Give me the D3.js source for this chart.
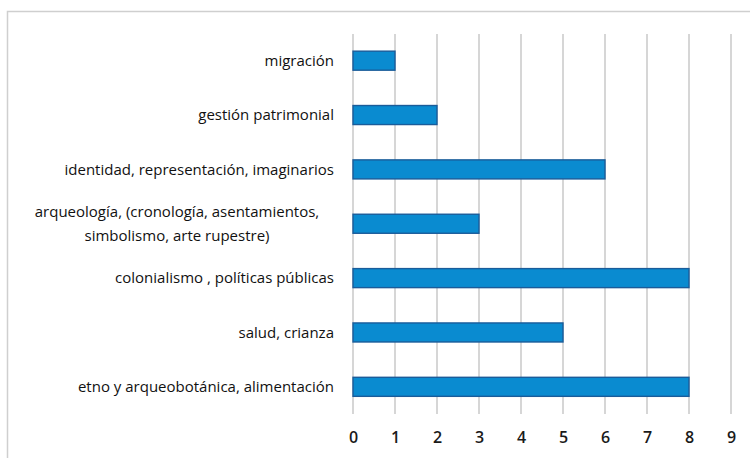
<!DOCTYPE html>
<html>
<head>
<meta charset="utf-8">
<script src="https://cdn.jsdelivr.net/npm/d3@7"></script>
<style>
  html, body { margin: 0; padding: 0; background: #fff; }
  svg { display: block; }
</style>
</head>
<body>
<svg id="chart" width="750" height="458"></svg>
<script>
const categories = [
  ["migración"],
  ["gestión patrimonial"],
  ["identidad, representación, imaginarios"],
  ["arqueología, (cronología, asentamientos,", "simbolismo, arte rupestre)"],
  ["colonialismo , políticas públicas"],
  ["salud, crianza"],
  ["etno y arqueobotánica, alimentación"]
];
const values = [1, 2, 6, 3, 8, 5, 8];
const tickValues = [0, 1, 2, 3, 4, 5, 6, 7, 8, 9];

const svg = d3.select("#chart");
const W = 750, H = 458;
const font = "'Open Sans', 'Liberation Sans', sans-serif";

// outer border
svg.append("rect").attr("x", 7.5).attr("y", 11.5).attr("width", W + 10).attr("height", H + 10)
  .attr("fill", "#fff").attr("stroke", "#cfcfcf").attr("stroke-width", 1.5);

const x = d3.scaleLinear().domain([0, 9]).range([353, 731]);
const ids = categories.map((c, i) => i);
const y = d3.scaleBand().domain(ids).range([33.5, 414]).paddingInner(0.65).paddingOuter(0.325);

// gridlines
svg.append("g").selectAll("line").data(tickValues).join("line")
  .attr("x1", d => x(d)).attr("x2", d => x(d))
  .attr("y1", 34).attr("y2", 414)
  .attr("stroke", "#c8c8c8").attr("stroke-width", 1.5);

// bars
svg.append("g").selectAll("rect").data(values).join("rect")
  .attr("x", x(0)).attr("y", (d, i) => y(i))
  .attr("width", d => x(d) - x(0)).attr("height", y.bandwidth())
  .attr("fill", "#0a8bd0").attr("stroke", "#1a5c9a").attr("stroke-width", 1.4);

// x axis labels
const xAxis = d3.axisBottom(x).tickValues(tickValues).tickSize(0).tickPadding(0).tickFormat(d3.format("d"));
const gx = svg.append("g").attr("transform", "translate(0,437)").call(xAxis);
gx.select(".domain").remove();
gx.selectAll("text").attr("font-family", font).attr("font-size", 16).attr("font-weight", 600)
  .attr("fill", "#1a1a1a").attr("dy", "0.35em");

// category labels
const lab = svg.append("g");
categories.forEach((lines, i) => {
  const cy = y(i) + y.bandwidth() / 2;
  if (lines.length === 1) {
    lab.append("text").attr("x", 334).attr("y", cy).attr("dy", "0.35em")
      .attr("text-anchor", "end").attr("font-family", font).attr("font-size", 15)
      .attr("fill", "#111").text(lines[0]);
  } else {
    lines.forEach((t, j) => {
      lab.append("text").attr("x", 177).attr("y", cy + (j - 0.5) * 24).attr("dy", "0.35em")
        .attr("text-anchor", "middle").attr("font-family", font).attr("font-size", 15)
        .attr("fill", "#111").text(t);
    });
  }
});
</script>
</body>
</html>
